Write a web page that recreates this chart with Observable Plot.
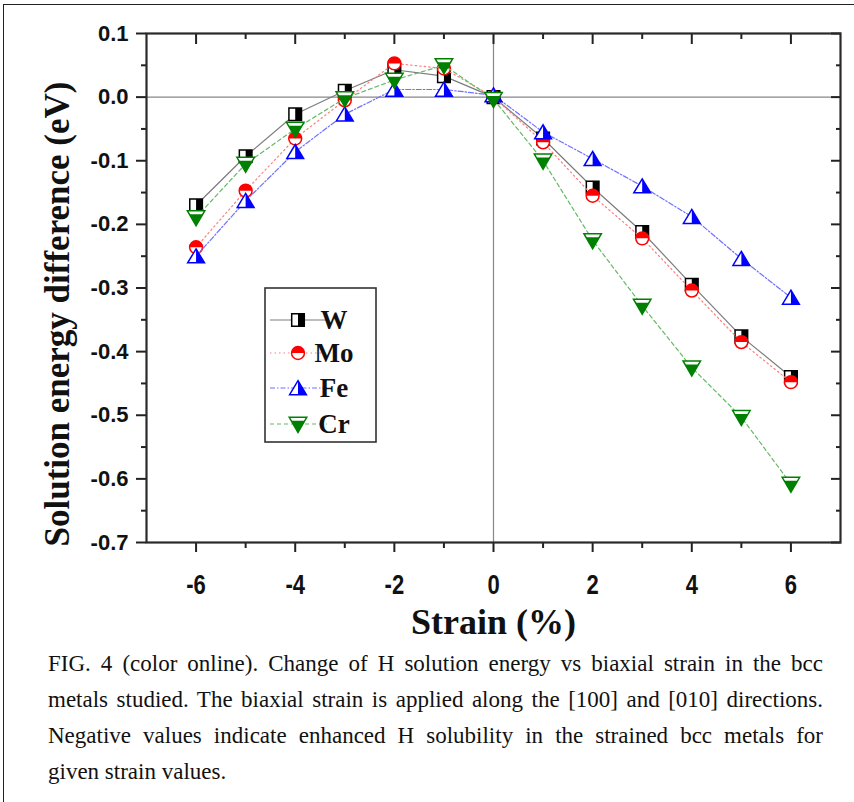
<!DOCTYPE html>
<html><head><meta charset="utf-8">
<script src="https://cdn.jsdelivr.net/npm/d3@7"></script>
<script src="https://cdn.jsdelivr.net/npm/@observablehq/plot@0.6"></script>
<style>
body{margin:0;background:#fff;}
#wrap{position:relative;width:854px;height:802px;overflow:hidden;background:#fff;}
#frame{position:absolute;left:3px;top:4px;width:900px;height:900px;border-left:1.5px solid #222;border-top:1.5px solid #222;pointer-events:none;}
#caption{position:absolute;left:48px;top:646px;width:775px;font-family:"Liberation Serif",serif;font-size:23px;line-height:36px;color:#111;}
#caption .j{text-align:justify;text-align-last:justify;white-space:nowrap;}
#caption .l{text-align:left;}
</style>
</head><body>
<div id="wrap"><div id="chart"></div><div id="frame"></div>
<div id="caption">
<div class="j">FIG. 4 (color online). Change of H solution energy vs biaxial strain in the bcc</div>
<div class="j">metals studied. The biaxial strain is applied along the [100] and [010] directions.</div>
<div class="j">Negative values indicate enhanced H solubility in the strained bcc metals for</div>
<div class="l">given strain values.</div>
</div></div>
<script>
// ---- data ----
const strain = [-6,-5,-4,-3,-2,-1,0,1,2,3,4,5,6];
const W  = [-0.170,-0.093,-0.027,0.010,0.043,0.033,0.000,-0.065,-0.142,-0.212,-0.295,-0.376,-0.440];
const Mo = [-0.236,-0.147,-0.065,-0.005,0.053,0.045,0.000,-0.071,-0.155,-0.222,-0.304,-0.385,-0.448];
const Fe = [-0.250,-0.163,-0.086,-0.027,0.012,0.012,0.003,-0.055,-0.097,-0.140,-0.188,-0.254,-0.315];
const Cr = [-0.189,-0.105,-0.050,-0.002,0.027,0.050,-0.003,-0.100,-0.225,-0.328,-0.425,-0.503,-0.608];
const seriesNames = ["W","Mo","Fe","Cr"];
const xTicks = [-6,-4,-2,0,2,4,6];
const xTickLabels = ["-6","-4","-2","0","2","4","6"];
const xMinor = [-5,-3,-1,1,3,5];
const yTicks = [0.1,0,-0.1,-0.2,-0.3,-0.4,-0.5,-0.6,-0.7];
const yTickLabels = ["0.1","0.0","-0.1","-0.2","-0.3","-0.4","-0.5","-0.6","-0.7"];
const yMinor = [0.05,-0.05,-0.15,-0.25,-0.35,-0.45,-0.55,-0.65];
const xLabel = "Strain (%)";
const yLabel = "Solution energy difference (eV)";

// ---- symbols ----
const sym = fn => ({draw(ctx, size){ const r = Math.sqrt(size/Math.PI); fn(ctx, r); }});
const squareFull = sym((c,r)=>{const h=r*0.9; c.rect(-h,-h,2*h,2*h);});
const squareHalf = sym((c,r)=>{const h=r*0.9; c.rect(0,-h,h,2*h);});
const circleFull = sym((c,r)=>{const k=r*0.92; c.moveTo(k,0); c.arc(0,0,k,0,2*Math.PI);});
const circleHalf = sym((c,r)=>{const k=r*0.92; c.moveTo(k,0); c.arc(0,0,k,0,Math.PI,true); c.closePath();});
const triUp = sym((c,r)=>{c.moveTo(0,-1.05*r); c.lineTo(1.2*r,0.95*r); c.lineTo(-1.2*r,0.95*r); c.closePath();});
const triUpHalf = sym((c,r)=>{c.moveTo(0,-1.05*r); c.lineTo(1.2*r,0.95*r); c.lineTo(0,0.95*r); c.closePath();});
const triDown = sym((c,r)=>{c.moveTo(-1.25*r,-0.95*r); c.lineTo(1.25*r,-0.95*r); c.lineTo(0,1.2*r); c.closePath();});
const triDownHalf = sym((c,r)=>{const y0=-0.45*r, hw=1.25*r*(1.2*r-y0)/(2.15*r); c.moveTo(-hw,y0); c.lineTo(hw,y0); c.lineTo(0,1.2*r); c.closePath();});

const styles = {
  W:  {values:W,  line:"#7c7c7c", dash:null,        color:"#000000", full:squareFull, half:squareHalf},
  Mo: {values:Mo, line:"#ff7f7f", dash:"1.5,3",     color:"#ff0000", full:circleFull, half:circleHalf},
  Fe: {values:Fe, line:"#7070ff", dash:"5,2,1.5,2", color:"#0000ff", full:triUp,      half:triUpHalf},
  Cr: {values:Cr, line:"#66b866", dash:"4,3",       color:"#008000", full:triDown,    half:triDownHalf}
};
const R = 7;

const marks = [
  Plot.ruleY([0], {stroke:"#888", strokeWidth:1.2}),
  Plot.ruleX([0], {stroke:"#888", strokeWidth:1.2})
];
for (const name of seriesNames) {
  const s = styles[name];
  const rows = strain.map((x,i)=>({x, v:s.values[i]}));
  marks.push(Plot.line(rows, {x:"x", y:"v", stroke:s.line, strokeWidth:1.2, strokeDasharray:s.dash}));
  marks.push(Plot.dot(rows, {x:"x", y:"v", r:R, symbol:s.full, fill:"white", stroke:s.color, strokeWidth:1.5}));
  marks.push(Plot.dot(rows, {x:"x", y:"v", r:R, symbol:s.half, fill:s.color, stroke:"none"}));
}
const axisFont = {fontFamily:"Liberation Sans", fontWeight:"bold"};
marks.push(
  Plot.axisX({ticks:xTicks, tickSize:10, tickPadding:22, tickFormat:d=>xTickLabels[xTicks.indexOf(d)], fontSize:22, ...axisFont, stroke:"#222", strokeWidth:2, color:"#111", label:null}),
  Plot.axisX({ticks:xMinor, tickSize:6, tickFormat:()=>"", stroke:"#222", strokeWidth:2, label:null}),
  Plot.axisX({anchor:"top", ticks:xTicks, tickSize:10, dy:10, tickFormat:()=>"", stroke:"#222", strokeWidth:2, label:null}),
  Plot.axisX({anchor:"top", ticks:xMinor, tickSize:5, dy:5, tickFormat:()=>"", stroke:"#222", strokeWidth:2, label:null}),
  Plot.axisY({ticks:yTicks, tickSize:10, tickPadding:8, tickFormat:d=>yTickLabels[yTicks.indexOf(d)], fontSize:22, ...axisFont, stroke:"#222", strokeWidth:2, color:"#111", label:null}),
  Plot.axisY({ticks:yMinor, tickSize:5, tickFormat:()=>"", stroke:"#222", strokeWidth:2, label:null}),
  Plot.axisY({anchor:"right", ticks:yTicks, tickSize:10, dx:-10, tickFormat:()=>"", stroke:"#222", strokeWidth:2, label:null}),
  Plot.axisY({anchor:"right", ticks:yMinor, tickSize:5, dx:-5, tickFormat:()=>"", stroke:"#222", strokeWidth:2, label:null}),
  Plot.frame({stroke:"#2a2a2a", strokeWidth:2.2}),
  Plot.text([xLabel], {frameAnchor:"bottom", dy:80, text:d=>d, fontFamily:"Liberation Serif", fontWeight:"bold", fontSize:36, fill:"#111", lineAnchor:"middle", ariaLabel:"xlabel"}),
  Plot.text([yLabel], {frameAnchor:"left", dx:-89, dy:26, rotate:-90, textAnchor:"middle", text:d=>d, fontFamily:"Liberation Serif", fontWeight:"bold", fontSize:35, fill:"#111", lineAnchor:"middle", ariaLabel:"ylabel"})
);

const svg = Plot.plot({
  width:854, height:646,
  marginLeft:146, marginRight:14, marginTop:33, marginBottom:104,
  x:{domain:[-7,7], label:null},
  y:{domain:[-0.7,0.1], label:null},
  style:{background:"white", overflow:"visible"},
  marks
});
document.getElementById("chart").appendChild(svg);

// vertical stretch of x tick labels / x label like the original
const stretch = (sel, sx, sy) => d3.select(svg).selectAll(sel).each(function(){
  const t = this.getAttribute("transform") || "";
  this.setAttribute("transform", t + ` scale(${sx},${sy})`);
});
stretch('g[aria-label="x-axis tick label"] text', 1, 1.25);
stretch('g[aria-label="xlabel"] text', 1, 1.15);

// ---- legend (inside plot area) ----
const g = d3.select(svg).append("g");
g.append("rect").attr("x",265).attr("y",288).attr("width",111).attr("height",154)
  .attr("fill","white").attr("stroke","#333").attr("stroke-width",1.6);
const rowsY = [320,353,388,424];
seriesNames.forEach((name,i)=>{
  const s = styles[name], y = rowsY[i];
  g.append("line").attr("x1",270).attr("x2",327).attr("y1",y).attr("y2",y)
    .attr("stroke",s.line).attr("stroke-width",1.2).attr("stroke-dasharray",s.dash);
  const size = Math.PI*R*R;
  g.append("path").attr("transform",`translate(298,${y})`).attr("d",d3.symbol(s.full,size)())
    .attr("fill","white").attr("stroke",s.color).attr("stroke-width",1.5);
  g.append("path").attr("transform",`translate(298,${y})`).attr("d",d3.symbol(s.half,size)())
    .attr("fill",s.color);
  g.append("text").attr("x",334).attr("y",y).attr("dy","0.35em").text(name)
    .attr("font-family","Liberation Serif").attr("font-weight","bold").attr("font-size",27).attr("fill","#111");
});
</script>
</body></html>
